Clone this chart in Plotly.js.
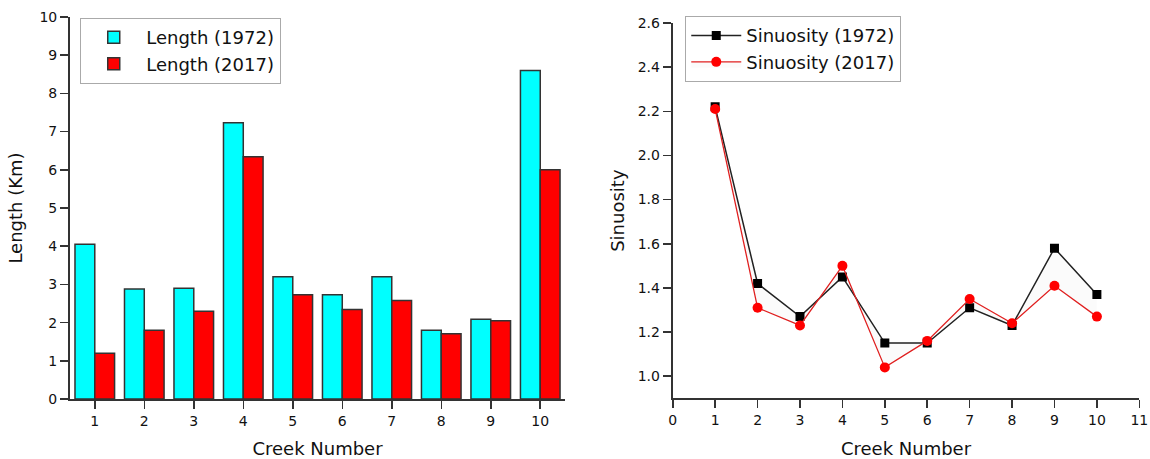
<!DOCTYPE html>
<html>
<head>
<meta charset="utf-8">
<script src="https://cdn.plot.ly/plotly-3.0.1.min.js"></script>
<style>html,body{margin:0;padding:0;background:#fff;}#chart{width:1150px;height:459px;}</style>
</head>
<body>
<div id="chart"></div>
<script>
const creeks = [1, 2, 3, 4, 5, 6, 7, 8, 9, 10];
const length1972 = [4.05, 2.88, 2.90, 7.23, 3.20, 2.73, 3.20, 1.80, 2.09, 8.60];
const length2017 = [1.20, 1.80, 2.30, 6.34, 2.73, 2.34, 2.58, 1.71, 2.05, 6.00];
const sinuosity1972 = [2.22, 1.42, 1.27, 1.45, 1.15, 1.15, 1.31, 1.23, 1.58, 1.37];
const sinuosity2017 = [2.21, 1.31, 1.23, 1.50, 1.04, 1.16, 1.35, 1.24, 1.41, 1.27];
const lengthTicks = [0,1,2,3,4,5,6,7,8,9,10];
const sinTicks = [1.0,1.2,1.4,1.6,1.8,2.0,2.2,2.4,2.6];
const xTicksRight = [0,1,2,3,4,5,6,7,8,9,10,11];

const FONT = 'DejaVu Sans, Arial, sans-serif';
const axCol = '#333';

const traces = [
  {type:'bar', x:creeks, y:length1972, name:'Length (1972)', xaxis:'x', yaxis:'y',
   marker:{color:'#00FFFF', line:{color:'#333', width:1.5}}, legend:'legend'},
  {type:'bar', x:creeks, y:length2017, name:'Length (2017)', xaxis:'x', yaxis:'y',
   marker:{color:'#FF0000', line:{color:'#333', width:1.5}}, legend:'legend'},
  {type:'scatter', mode:'lines+markers', x:creeks, y:sinuosity1972, name:'Sinuosity (1972)',
   xaxis:'x2', yaxis:'y2', line:{color:'#222', width:1.5},
   marker:{symbol:'square', size:9, color:'#000'}, legend:'legend2'},
  {type:'scatter', mode:'lines+markers', x:creeks, y:sinuosity2017, name:'Sinuosity (2017)',
   xaxis:'x2', yaxis:'y2', line:{color:'#e02020', width:1.3},
   marker:{symbol:'circle', size:10, color:'#FF0000'}, fill:'tonexty', fillcolor:'rgba(200,200,200,0.08)',
   legend:'legend2'}
];

const axBase = {showline:true, linecolor:axCol, linewidth:2, ticks:'outside', ticklen:8, tickwidth:1.5,
  tickcolor:axCol, showgrid:false, zeroline:false, automargin:false,
  tickfont:{family:FONT, size:14, color:'#111'}, fixedrange:true};

const layout = {
  width:1150, height:459, margin:{l:0, r:0, t:0, b:0},
  paper_bgcolor:'#fff', plot_bgcolor:'#fff', showlegend:true,
  font:{family:FONT, color:'#111'},
  barmode:'group', bargap:0.2, bargroupgap:0,
  xaxis:Object.assign({}, axBase, {domain:[0.0609, 0.4913], range:[0.5, 10.5],
    tickmode:'array', tickvals:creeks, anchor:'y',
    title:{text:'Creek Number', font:{family:FONT, size:18}, standoff:20}}),
  yaxis:Object.assign({}, axBase, {domain:[0.1307, 0.963], range:[0, 10],
    tickmode:'array', tickvals:lengthTicks, anchor:'x',
    title:{text:'Length (Km)', font:{family:FONT, size:18}, standoff:12}}),
  xaxis2:Object.assign({}, axBase, {domain:[0.585, 0.9907], range:[0, 11],
    tickmode:'array', tickvals:xTicksRight, anchor:'y2',
    title:{text:'Creek Number', font:{family:FONT, size:18}, standoff:20}}),
  yaxis2:Object.assign({}, axBase, {domain:[0.1322, 0.950], range:[0.9, 2.6],
    tickmode:'array', tickvals:sinTicks, tickformat:'.1f', anchor:'x2',
    title:{text:'Sinuosity', font:{family:FONT, size:18}, standoff:8}}),
  legend:{x:0.0696, y:0.961, xanchor:'left', yanchor:'top', bgcolor:'#fff',
    bordercolor:'#aaa', borderwidth:1.2, font:{family:FONT, size:18, color:'#111'},
    tracegroupgap:0, traceorder:'normal', itemwidth:55},
  legend2:{x:0.5957, y:0.965, xanchor:'left', yanchor:'top', bgcolor:'#fff',
    bordercolor:'#aaa', borderwidth:1.2, font:{family:FONT, size:18, color:'#111'},
    tracegroupgap:0, traceorder:'normal', itemwidth:50}
};

Plotly.newPlot('chart', traces, layout, {displayModeBar:false, staticPlot:true});
</script>
</body>
</html>
